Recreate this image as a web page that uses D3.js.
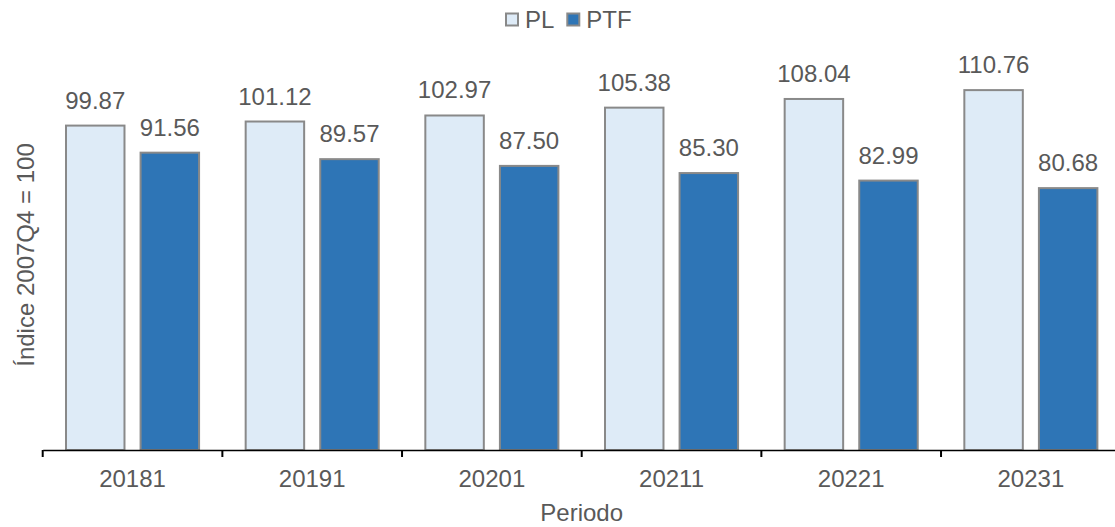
<!DOCTYPE html>
<html>
<head>
<meta charset="utf-8">
<script src="https://cdn.jsdelivr.net/npm/d3@7"></script>
<style>
  html, body { margin: 0; padding: 0; background: #fff; }
  svg { display: block; font-family: "Liberation Sans", Arial, sans-serif; }
</style>
</head>
<body>
<svg id="chart" width="1115" height="527"></svg>
<script>
const categories = ["20181", "20191", "20201", "20211", "20221", "20231"];
const seriesNames = ["PL", "PTF"];
const plValues = [99.87, 101.12, 102.97, 105.38, 108.04, 110.76];
const ptfValues = [91.56, 89.57, 87.50, 85.30, 82.99, 80.68];
const colors = { PL: "#DEEBF7", PTF: "#2E75B6" };
const yTitle = "Índice 2007Q4 = 100";
const xTitle = "Periodo";

(function () {
const svg = d3.select("#chart");
const textColor = "#595959";
const pLeft = 42.7, pRight = 1120.7, pTop = 59, pBottom = 450;

const x = d3.scaleBand().domain(categories).range([pLeft, pRight]).paddingInner(0).paddingOuter(0);
const bw = x.bandwidth();
const outer = 22.3;
const xs = d3.scaleBand().domain(seriesNames).range([outer, bw - outer]).paddingInner(0.189).paddingOuter(0);
const y = d3.scaleLinear().domain([0, 120]).range([pBottom, pTop]);

const data = categories.map((c, i) => ({ cat: c, PL: plValues[i], PTF: ptfValues[i] }));

const g = svg.append("g");
const groups = g.selectAll("g.cat").data(data).join("g")
  .attr("class", "cat")
  .attr("transform", d => `translate(${x(d.cat)},0)`);

groups.selectAll("rect").data(d => seriesNames.map(s => ({ s, v: d[s] }))).join("rect")
  .attr("x", d => xs(d.s) + 1)
  .attr("width", xs.bandwidth() - 2)
  .attr("y", d => y(d.v) + 1)
  .attr("height", d => pBottom - y(d.v) - 1)
  .attr("fill", d => colors[d.s])
  .attr("stroke", "#898989")
  .attr("stroke-width", 2);

groups.selectAll("text.val").data(d => seriesNames.map(s => ({ s, v: d[s] }))).join("text")
  .attr("class", "val")
  .attr("x", d => xs(d.s) + xs.bandwidth() / 2)
  .attr("y", d => y(d.v) - 16)
  .attr("text-anchor", "middle")
  .attr("fill", textColor)
  .style("font-size", "24px")
  .text(d => d.v.toFixed(2));

// x axis
const xAxis = d3.axisBottom(x).tickSize(0).tickFormat(d => d);
const ax = svg.append("g").attr("transform", `translate(0,${pBottom})`).call(xAxis);
ax.select(".domain").attr("stroke", "#000").attr("stroke-width", 1.5);
ax.selectAll(".tick text").attr("fill", textColor).style("font-size", "24px")
  .attr("dy", null).attr("y", 37).attr("font-family", "Liberation Sans, Arial, sans-serif");
const bounds = categories.map(c => x(c)).concat([pRight]);
ax.selectAll("line.bound").data(bounds).join("line")
  .attr("class", "bound")
  .attr("x1", d => d).attr("x2", d => d)
  .attr("y1", 0).attr("y2", 7)
  .attr("stroke", "#000").attr("stroke-width", 2);

// axis titles
svg.append("text")
  .attr("x", (pLeft + pRight) / 2).attr("y", 521)
  .attr("text-anchor", "middle").attr("fill", textColor).style("font-size", "24px")
  .text(xTitle);
svg.append("text")
  .attr("transform", `translate(34,255) rotate(-90)`)
  .attr("text-anchor", "middle").attr("fill", textColor).style("font-size", "24px")
  .text(yTitle);

// legend
const legendX = [506, 567.3];
const li = svg.append("g").selectAll("g").data(seriesNames).join("g")
  .attr("transform", (d, i) => `translate(${legendX[i]},13.5)`);
li.append("rect").attr("width", 12).attr("height", 12)
  .attr("fill", d => colors[d]).attr("stroke", "#898989").attr("stroke-width", 2);
li.append("text").attr("x", 19).attr("y", 14.5)
  .attr("fill", textColor).style("font-size", "24px").text(d => d);
})();
</script>
</body>
</html>
